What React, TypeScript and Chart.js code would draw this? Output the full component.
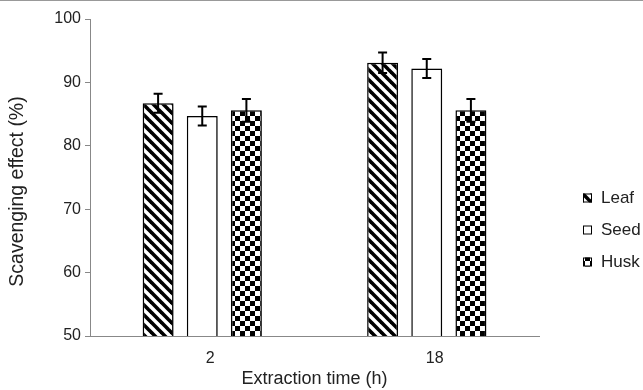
import React, { useEffect, useRef } from 'react';
import { Chart, registerables } from 'chart.js';

Chart.register(...registerables);

const categories = ['2', '18'];
const seriesNames = ['Leaf', 'Seed', 'Husk'];
const leafValues = [86.7, 93.1];
const seedValues = [84.7, 92.2];
const huskValues = [85.6, 85.6];
const leafErrors = [1.5, 1.6];
const seedErrors = [1.5, 1.5];
const huskErrors = [1.8, 1.8];
const yMin = 50;
const yMax = 100;
const yStep = 10;
const xTitle = 'Extraction time (h)';
const yTitle = 'Scavenging effect (%)';

const FONT = "'Liberation Sans', Arial, sans-serif";

function stripePattern(): CanvasPattern | string {
  const s = 10;
  const c = document.createElement('canvas');
  c.width = s; c.height = s;
  const g = c.getContext('2d');
  if (!g) return '#000';
  g.fillStyle = '#fff';
  g.fillRect(0, 0, s, s);
  g.strokeStyle = '#000';
  g.lineWidth = 3.6;
  g.lineCap = 'square';
  for (const k of [-1, 0, 1]) {
    g.beginPath();
    g.moveTo(k * s - 1, -1);
    g.lineTo(k * s + s + 1, s + 1);
    g.stroke();
  }
  return g.createPattern(c, 'repeat') || '#000';
}

function checkerPattern(): CanvasPattern | string {
  const s = 10;
  const c = document.createElement('canvas');
  c.width = s; c.height = s;
  const g = c.getContext('2d');
  if (!g) return '#000';
  g.fillStyle = '#fff';
  g.fillRect(0, 0, s, s);
  g.fillStyle = '#000';
  g.fillRect(0, 0, s / 2, s / 2);
  g.fillRect(s / 2, s / 2, s / 2, s / 2);
  return g.createPattern(c, 'repeat') || '#000';
}

export default function App() {
  const ref = useRef<HTMLCanvasElement>(null);
  useEffect(() => {
    document.body.style.margin = '0';
    const canvas = ref.current;
    if (!canvas) return;
    const fills = [stripePattern(), '#ffffff', checkerPattern()];
    const values = [leafValues, seedValues, huskValues];
    const errors = [leafErrors, seedErrors, huskErrors];

    const shadowPlugin = {
      id: 'barShadow',
      beforeDatasetsDraw(chart: any) {
        const ctx = chart.ctx;
        ctx.save();
        ctx.shadowColor = 'rgba(0,0,0,0.25)';
        ctx.shadowBlur = 3;
        ctx.shadowOffsetX = 1.5;
        ctx.shadowOffsetY = 1.5;
      },
      afterDatasetsDraw(chart: any) {
        chart.ctx.restore();
      },
    };

    const errorPlugin = {
      id: 'errorBars',
      afterDatasetsDraw(chart: any) {
        const ctx = chart.ctx;
        const yScale = chart.scales.y;
        ctx.save();
        ctx.strokeStyle = '#000';
        ctx.lineWidth = 2;
        chart.data.datasets.forEach((ds: any, di: number) => {
          const meta = chart.getDatasetMeta(di);
          meta.data.forEach((bar: any, i: number) => {
            const v = ds.data[i];
            const e = errors[di][i];
            const x = bar.x;
            const yt = yScale.getPixelForValue(v + e);
            const yb = yScale.getPixelForValue(v - e);
            const cap = 4.5;
            ctx.beginPath();
            ctx.moveTo(x, yt); ctx.lineTo(x, yb);
            ctx.moveTo(x - cap, yt); ctx.lineTo(x + cap, yt);
            ctx.moveTo(x - cap, yb); ctx.lineTo(x + cap, yb);
            ctx.stroke();
          });
        });
        ctx.restore();
      },
    };

    const legendPlugin = {
      id: 'customLegend',
      afterDraw(chart: any) {
        const ctx = chart.ctx;
        const area = chart.chartArea;
        const x0 = area.right + 44;
        const yc = (area.top + area.bottom) / 2 + 53;
        const gap = 32;
        ctx.save();
        ctx.font = `17px ${FONT}`;
        ctx.textBaseline = 'middle';
        ctx.textAlign = 'left';
        seriesNames.forEach((name, i) => {
          const y = yc + (i - 1) * gap;
          ctx.fillStyle = fills[i];
          ctx.fillRect(x0, y - 5, 9, 9);
          ctx.strokeStyle = '#000';
          ctx.lineWidth = 1;
          ctx.strokeRect(x0 + 0.5, y - 4.5, 8, 8);
          ctx.fillStyle = '#222';
          ctx.fillText(name, x0 + 18, y);
        });
        // y-axis title, placed a little below the plot's centre as in the original
        ctx.translate(18, (area.top + area.bottom) / 2 + 14);
        ctx.rotate(-Math.PI / 2);
        ctx.font = `19.5px ${FONT}`;
        ctx.textAlign = 'center';
        ctx.fillText(yTitle, 0, 0);
        ctx.restore();
      },
    };

    const chart = new Chart(canvas, {
      type: 'bar',
      data: {
        labels: categories,
        datasets: seriesNames.map((name, i) => ({
          label: name,
          data: values[i],
          backgroundColor: fills[i] as any,
          borderColor: '#000',
          borderWidth: 1.5,
          barPercentage: 0.7,
          categoryPercentage: 0.59,
        })),
      },
      options: {
        animation: false,
        responsive: false,
        layout: { padding: { top: 18, right: 104, left: 0, bottom: 0 } },
        plugins: {
          legend: { display: false },
          tooltip: { enabled: false },
        },
        scales: {
          x: {
            grid: { display: false },
            border: { display: true, color: '#888', width: 1 },
            ticks: { color: '#222', font: { family: FONT, size: 16 }, padding: 5, labelOffset: 8 },
            title: { display: true, text: xTitle, color: '#222', font: { family: FONT, size: 18 }, padding: { top: 4, bottom: 0 } },
            afterFit(scale: any) { scale.height = 54; },
          },
          y: {
            min: yMin,
            max: yMax,
            ticks: { stepSize: yStep, color: '#222', font: { family: FONT, size: 16 }, padding: 4 },
            grid: { display: true, drawOnChartArea: false, drawTicks: true, tickLength: 5, color: '#888' },
            border: { display: true, color: '#888', width: 1 },
            title: { display: false, text: yTitle },
            afterFit(scale: any) { scale.width = 90; },
          },
        },
      },
      plugins: [shadowPlugin, errorPlugin, legendPlugin],
    });
    return () => chart.destroy();
  }, []);
  return (
    <div style={{ width: 643, height: 390, borderTop: '1px solid #999', boxSizing: 'border-box' }}>
      <canvas ref={ref} width={643} height={389} style={{ display: 'block' }} />
    </div>
  );
}
